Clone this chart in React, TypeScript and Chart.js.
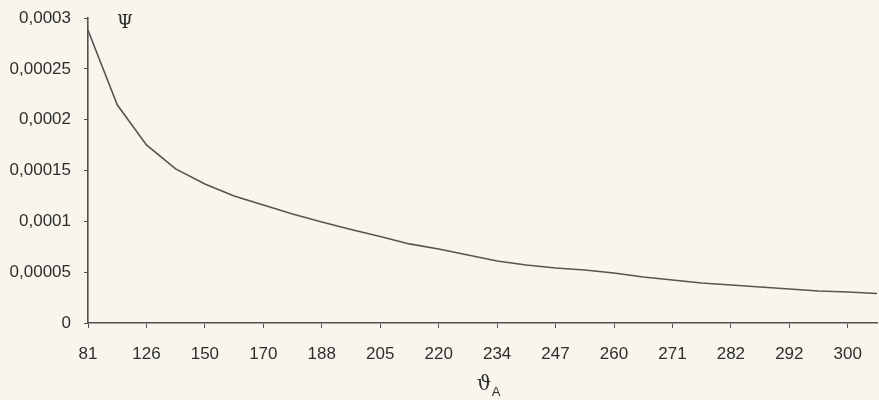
import React, { useEffect, useRef } from "react";
import { Chart, registerables } from "chart.js";

Chart.register(...registerables);

// Shown x-axis labels (every second category is labelled)
const tickLabels = ["81", "126", "150", "170", "188", "205", "220", "234", "247", "260", "271", "282", "292", "300"];

// Psi values, one per category (two categories per labelled tick)
const psiValues = [
  0.000288, 0.0002146, 0.0001752, 0.0001516, 0.0001368, 0.000125, 0.0001161, 0.0001073,
  0.0000994, 0.000092, 0.000085, 0.0000778, 0.0000728, 0.0000669, 0.000061, 0.0000571,
  0.0000541, 0.0000522, 0.0000492, 0.0000453, 0.0000423, 0.0000394, 0.0000374, 0.0000354,
  0.0000335, 0.0000315, 0.0000305, 0.000029,
];

const yMin = 0;
const yMax = 0.0003;
const yStep = 0.00005;

const categories = psiValues.map((_, i) => (i % 2 === 0 ? tickLabels[i / 2] ?? "" : ""));

const INK = "#2e2e2e";
const AXIS = "#505050";
const FONT = "'Liberation Sans', Arial, sans-serif";

const titlesPlugin = {
  id: "axisTitles",
  afterDraw(chart: any) {
    const { ctx, chartArea } = chart;
    ctx.save();
    ctx.fillStyle = INK;
    ctx.textBaseline = "middle";
    ctx.textAlign = "center";
    ctx.font = "18px 'DejaVu Serif', serif";
    ctx.fillText("Ψ", chartArea.left + 37, 23);
    ctx.font = "20px 'DejaVu Serif', serif";
    ctx.fillText("ϑ", 484, 385);
    ctx.font = "13px 'Liberation Sans', sans-serif";
    ctx.fillText("A", 496, 392);
    ctx.restore();
  },
};

export default function App() {
  const ref = useRef<HTMLCanvasElement | null>(null);
  useEffect(() => {
    if (!ref.current) return;
    const chart = new Chart(ref.current, {
      type: "line",
      data: {
        labels: categories,
        datasets: [
          {
            data: psiValues,
            borderColor: "#555555",
            borderWidth: 1.6,
            pointRadius: 0,
            tension: 0,
            fill: false,
          },
        ],
      },
      options: {
        animation: false,
        responsive: true,
        maintainAspectRatio: false,
        layout: { padding: { top: 18, right: 2, left: 0, bottom: 0 } },
        plugins: { legend: { display: false }, tooltip: { enabled: false } },
        scales: {
          x: {
            type: "category",
            offset: false,
            border: { display: true, color: AXIS, width: 1.6 },
            grid: {
              drawOnChartArea: false,
              drawTicks: true,
              tickLength: 5,
              color: (c: any) => (c.index % 2 === 0 ? AXIS : "rgba(0,0,0,0)"),
            },
            ticks: {
              autoSkip: false,
              maxRotation: 0,
              minRotation: 0,
              padding: 16,
              color: INK,
              font: { family: FONT, size: 17 },
              callback: (_v: any, i: number) => categories[i],
            },
            afterFit: (s: any) => {
              s.height = 77;
              s.paddingRight = 0;
              s.paddingLeft = 0;
            },
          },
          y: {
            min: yMin,
            max: yMax,
            border: { display: true, color: AXIS, width: 1.6 },
            grid: { drawOnChartArea: false, drawTicks: true, tickLength: 4, color: AXIS },
            ticks: {
              stepSize: yStep,
              padding: 13,
              color: INK,
              font: { family: FONT, size: 17 },
              callback: (v: any) => Number(Number(v).toFixed(6)).toString().replace(".", ","),
            },
            afterFit: (s: any) => {
              s.width = 88;
              s.paddingTop = 0;
              s.paddingBottom = 0;
            },
          },
        },
      },
      plugins: [titlesPlugin],
    });
    return () => chart.destroy();
  }, []);
  return (
    <div style={{ position: "fixed", left: 0, top: 0, width: 879, height: 400, background: "#f7f5ec" }}>
      <canvas ref={ref} />
    </div>
  );
}
